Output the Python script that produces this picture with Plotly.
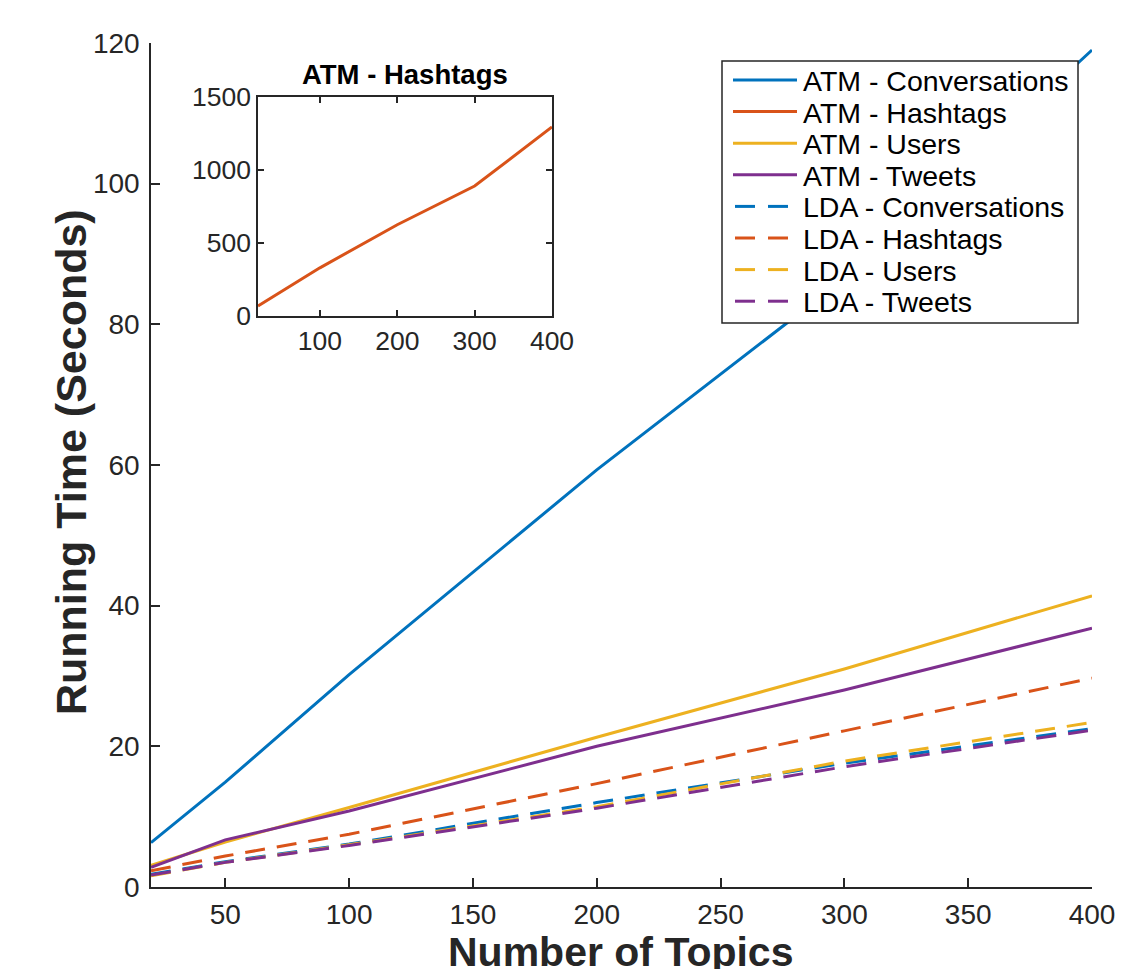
import plotly.graph_objects as go

topics = [20, 50, 100, 200, 300, 400]

atm_conversations = [6.3, 14.9, 30.2, 59.3, 86.5, 119.0]
atm_hashtags = [68, 166, 330, 625, 890, 1295]
atm_users = [3.1, 6.4, 11.3, 21.3, 31.0, 41.4]
atm_tweets = [2.8, 6.7, 10.8, 20.0, 28.0, 36.8]
lda_conversations = [1.8, 3.6, 6.1, 12.0, 17.6, 22.5]
lda_hashtags = [2.3, 4.4, 7.5, 14.7, 22.2, 29.7]
lda_users = [1.6, 3.5, 6.0, 11.4, 17.9, 23.4]
lda_tweets = [1.7, 3.5, 5.9, 11.2, 17.1, 22.3]

x_ticks = [50, 100, 150, 200, 250, 300, 350, 400]
y_ticks = [0, 20, 40, 60, 80, 100, 120]
inset_x_ticks = [100, 200, 300, 400]
inset_y_ticks = [0, 500, 1000, 1500]

BLUE, ORANGE, YELLOW, PURPLE = "#0072BD", "#D95319", "#EDB120", "#7E2F8E"
DASH = "20px,12px"
AX = "#262626"
FONT = "Liberation Sans, Arial, sans-serif"

W, H = 1145, 969
OFF = 8  # page body margin
PL, PT, PW, PH = 151, 43, 941, 844  # plot area in screen pixels
L, T = PL - OFF, PT - OFF
R, B = W - L - PW, H - T - PH


def px(xp):
    return (xp - PL) / PW


def py(yp):
    return (PT + PH - yp) / PH


fig = go.Figure()
series = [
    ("ATM - Conversations", atm_conversations, BLUE, "solid", True),
    ("ATM - Hashtags", atm_hashtags, ORANGE, "solid", False),
    ("ATM - Users", atm_users, YELLOW, "solid", True),
    ("ATM - Tweets", atm_tweets, PURPLE, "solid", True),
    ("LDA - Conversations", lda_conversations, BLUE, DASH, True),
    ("LDA - Hashtags", lda_hashtags, ORANGE, DASH, True),
    ("LDA - Users", lda_users, YELLOW, DASH, True),
    ("LDA - Tweets", lda_tweets, PURPLE, DASH, True),
]
for name, ys, col, dash, main in series:
    fig.add_trace(go.Scatter(x=topics, y=ys, mode="lines", name=name,
                             line=dict(color=col, width=3, dash=dash),
                             xaxis="x" if main else "x2",
                             yaxis="y" if main else "y2",
                             showlegend=False))

# custom legend (box, line samples, labels)
shapes = []
annotations = []
leg_x0, leg_x1, leg_y0, leg_y1 = 722, 1078, 61, 323
row0, row_step = 80, 31.6
shapes.append(dict(type="rect", xref="paper", yref="paper",
                   x0=px(leg_x0), x1=px(leg_x1), y0=py(leg_y1), y1=py(leg_y0),
                   fillcolor="white", line=dict(color=AX, width=1.5), layer="above"))
for i, (name, ys, col, dash, main) in enumerate(series):
    yc = row0 + i * row_step
    if dash == "solid":
        segs = [(733, 797)]
    else:
        segs = [(735, 755), (768, 788)]
    for a, b in segs:
        shapes.append(dict(type="line", xref="paper", yref="paper",
                           x0=px(a), x1=px(b), y0=py(yc), y1=py(yc),
                           line=dict(color=col, width=3), layer="above"))
    annotations.append(dict(text=name, x=px(801), y=py(yc + 1), xref="paper", yref="paper",
                            xanchor="left", yanchor="middle", showarrow=False,
                            font=dict(size=28.5, color="black", family=FONT)))

annotations.append(dict(text="<b>ATM - Hashtags</b>", x=px(405), y=py(75), xref="paper", yref="paper",
                        xanchor="center", yanchor="middle", showarrow=False,
                        font=dict(size=27.5, color="black", family=FONT)))
annotations.append(dict(text="<b>Number of Topics</b>", x=px(620), y=py(952), xref="paper", yref="paper",
                        xanchor="center", yanchor="middle", showarrow=False,
                        font=dict(size=41, color=AX, family=FONT)))
annotations.append(dict(text="<b>Running Time (Seconds)</b>", x=px(71), y=py(462), xref="paper", yref="paper",
                        xanchor="center", yanchor="middle", showarrow=False, textangle=-90,
                        font=dict(size=43, color=AX, family=FONT)))

fig.update_layout(
    width=W, height=H,
    margin=dict(l=L, r=R, t=T, b=B),
    paper_bgcolor="white", plot_bgcolor="white",
    font=dict(family=FONT, color=AX),
    showlegend=False,
    shapes=shapes,
    annotations=annotations,
    xaxis=dict(domain=[0, 1], range=[20, 400], tickvals=x_ticks,
               ticks="inside", ticklen=9, tickwidth=1.5, tickcolor=AX,
               showline=True, linecolor=AX, linewidth=1.5,
               showgrid=False, zeroline=False, automargin=False,
               tickfont=dict(size=28, color=AX), ticklabelstandoff=2,
               anchor="y"),
    yaxis=dict(domain=[0, 1], range=[0, 120], tickvals=y_ticks,
               ticks="inside", ticklen=9, tickwidth=1.5, tickcolor=AX,
               showline=True, linecolor=AX, linewidth=1.5,
               showgrid=False, zeroline=False, automargin=False,
               tickfont=dict(size=28, color=AX), ticklabelstandoff=4,
               anchor="x"),
    xaxis2=dict(domain=[px(258), px(552)], range=[20, 400], tickvals=inset_x_ticks,
                ticks="inside", ticklen=6, tickwidth=1.5, tickcolor=AX,
                showline=True, linecolor=AX, linewidth=1.5, mirror="allticks",
                showgrid=False, zeroline=False, automargin=False,
                tickfont=dict(size=26.5, color=AX), anchor="y2"),
    yaxis2=dict(domain=[py(316), py(97)], range=[0, 1500], tickvals=inset_y_ticks,
                ticks="inside", ticklen=6, tickwidth=1.5, tickcolor=AX,
                showline=True, linecolor=AX, linewidth=1.5, mirror="allticks",
                showgrid=False, zeroline=False, automargin=False,
                tickfont=dict(size=26.5, color=AX), anchor="x2"),
)

fig.write_html("out.html")
